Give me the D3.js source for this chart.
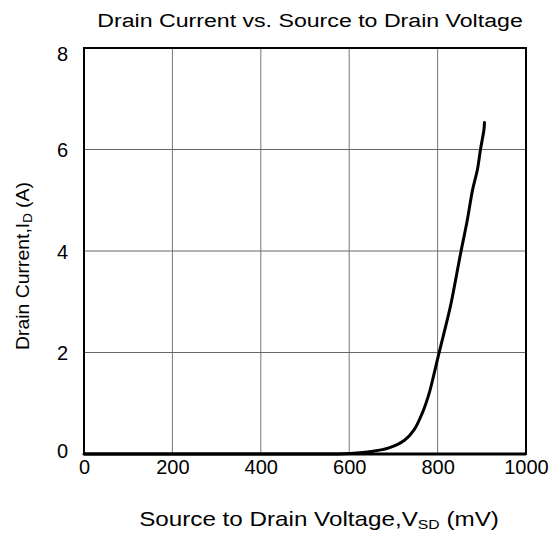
<!DOCTYPE html>
<html>
<head>
<meta charset="utf-8">
<script src="https://cdn.jsdelivr.net/npm/d3@7"></script>
<style>
  body { margin: 0; background: #fff; }
  text { font-family: "Liberation Sans", Arial, sans-serif; fill: #000; }
</style>
</head>
<body>
<div class="canvas"></div>
<script>
// curve
const voltage = [0, 100, 200, 300, 400, 500, 575, 600, 650, 690, 725, 747, 766, 781, 792, 802, 815, 830, 852, 867, 879, 890, 897, 905, 906];
const current = [0, 0, 0, 0, 0, 0, 0, 0.01, 0.05, 0.12, 0.27, 0.48, 0.82, 1.2, 1.58, 1.95, 2.4, 2.95, 3.95, 4.6, 5.2, 5.6, 6.0, 6.4, 6.53];
const xTicks = [0, 200, 400, 600, 800, 1000];
const yTicks = [0, 2, 4, 6, 8];

const margin = { top: 48, right: 25, bottom: 80, left: 84 };
const width = 551 - margin.left - margin.right;
const height = 534 - margin.top - margin.bottom;

const root = d3
  .select(".canvas")
  .append("svg")
  .attr("width", 551)
  .attr("height", 534);

const svg = root
  .append("g")
  .attr("transform", `translate(${margin.left},${margin.top})`);

const x = d3.scaleLinear().domain([0, 1000]).range([0, width]);
const y = d3.scaleLinear().domain([0, 8]).range([height, 0]);

// grid
svg
  .selectAll(".xGrid")
  .data(xTicks.slice(1, -1))
  .join("line")
  .attr("x1", (d) => x(d))
  .attr("x2", (d) => x(d))
  .attr("y1", 0)
  .attr("y2", height)
  .attr("stroke", "#777")
  .attr("stroke-width", 1);

svg
  .selectAll(".yGrid")
  .data(yTicks.slice(1, -1))
  .join("line")
  .attr("x1", 0)
  .attr("x2", width)
  .attr("y1", (d) => y(d))
  .attr("y2", (d) => y(d))
  .attr("stroke", "#666")
  .attr("stroke-width", 1);

// frame
svg
  .append("rect")
  .attr("width", width)
  .attr("height", height)
  .attr("fill", "none")
  .attr("stroke", "#000")
  .attr("stroke-width", 2);

svg
  .append("line")
  .attr("x1", 0)
  .attr("x2", width)
  .attr("y1", height)
  .attr("y2", height)
  .attr("stroke", "#000")
  .attr("stroke-width", 3);

// curve
const line = d3
  .line()
  .x((d, i) => x(voltage[i]))
  .y((d) => y(d))
  .curve(d3.curveCatmullRom);

svg
  .append("path")
  .datum(current)
  .attr("d", line)
  .attr("fill", "none")
  .attr("stroke", "#000")
  .attr("stroke-width", 3)
  .attr("stroke-linecap", "round");

// axes
const xAxis = svg.append("g").attr("transform", `translate(0, ${height})`);
xAxis.call(d3.axisBottom(x).tickValues(xTicks).tickFormat(d3.format("d")).tickSize(0).tickPadding(6));
const yAxis = svg.append("g");
yAxis.call(d3.axisLeft(y).tickValues(yTicks).tickSize(0).tickPadding(16));

[xAxis, yAxis].forEach((a) => {
  a.select(".domain").remove();
  a.selectAll("text")
    .style("font-family", "'Liberation Sans', Arial, sans-serif")
    .style("font-size", "20px")
    .attr("fill", "#000");
});
xAxis.selectAll("text").attr("dy", "0.7em");
// end labels sit a little inside the frame
yAxis.selectAll("text").attr("dy", (d) => (d === 8 ? "0.6em" : d === 0 ? "0.15em" : "0.35em"));

// the source font is wider than Arial: stretch each label to its span
function stretch(g, target) {
  const w = g.select("text").node().getComputedTextLength();
  g.select("text").attr("transform", `scale(${target / w},1)`);
}

// title
const tg = root.append("g").attr("transform", "translate(310,27)");
tg.append("text")
  .attr("text-anchor", "middle")
  .style("font-size", "19px")
  .text("Drain Current vs. Source to Drain Voltage");
stretch(tg, 426);

// x label
const xg = root.append("g").attr("transform", "translate(319,526)");
const xl = xg.append("text").attr("text-anchor", "middle").style("font-size", "20px");
xl.append("tspan").text("Source to Drain Voltage,V");
xl.append("tspan").attr("dy", 3).style("font-size", "13px").text("SD");
xl.append("tspan").attr("dy", -3).text(" (mV)");
stretch(xg, 360);

// y label
const yg = root.append("g").attr("transform", "translate(29,266) rotate(-90)");
const yl = yg.append("text").attr("text-anchor", "middle").style("font-size", "19px");
yl.append("tspan").text("Drain Current,I");
yl.append("tspan").attr("dy", 3).style("font-size", "13px").text("D");
yl.append("tspan").attr("dy", -3).text(" (A)");
stretch(yg, 168);
</script>
</body>
</html>
